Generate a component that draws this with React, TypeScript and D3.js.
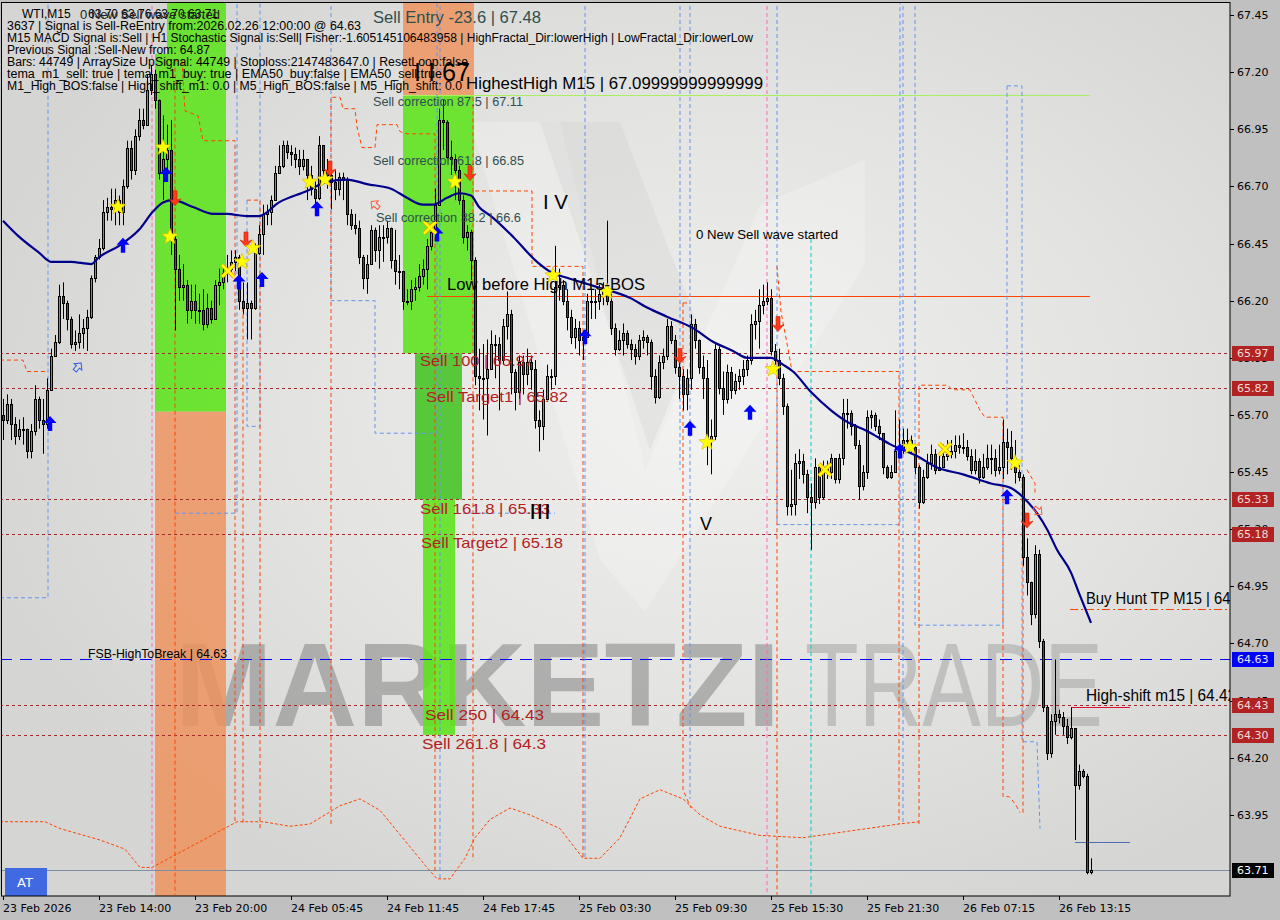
import React from 'react';
import * as d3 from 'd3';

const W = 1280;
const H = 920;

const timeLabels = ['23 Feb 2026', '23 Feb 14:00', '23 Feb 20:00', '24 Feb 05:45', '24 Feb 11:45', '24 Feb 17:45', '25 Feb 03:30', '25 Feb 09:30', '25 Feb 15:30', '25 Feb 21:30', '26 Feb 07:15', '26 Feb 13:15'];
const timeLabelBars = [0, 24, 48, 72, 96, 120, 144, 168, 192, 216, 240, 264];
const priceTicks = [67.45, 67.2, 66.95, 66.7, 66.45, 66.2, 65.95, 65.7, 65.45, 65.2, 64.95, 64.7, 64.45, 64.2, 63.95];

const firstOpen = 65.7;
const closes = [
  65.68, 65.75, 65.66, 65.61, 65.64, 65.64, 65.54, 65.63, 65.77, 65.68, 65.66, 65.81, 65.96,
  66.02, 66.22, 66.19, 66.12, 66.01, 66.02, 66.06, 66.08, 66.13, 66.30, 66.39, 66.43,
  66.59, 66.61, 66.60, 66.64, 66.59, 66.70, 66.87, 66.77, 66.92, 66.99, 66.97, 67.12,
  67.19, 67.08, 66.76, 66.82, 66.86, 66.47, 66.34, 66.26, 66.27, 66.16, 66.20, 66.16,
  66.16, 66.10, 66.17, 66.12, 66.27, 66.28, 66.32, 66.34, 66.37, 66.39, 66.20, 66.17,
  66.19, 66.17, 66.41, 66.49, 66.58, 66.59, 66.64, 66.76, 66.79, 66.88, 66.85, 66.84,
  66.82, 66.79, 66.82, 66.75, 66.69, 66.65, 66.88, 66.77, 66.75, 66.72, 66.69, 66.74,
  66.73, 66.58, 66.53, 66.52, 66.39, 66.30, 66.36, 66.51, 66.42, 66.48, 66.48, 66.52,
  66.38, 66.33, 66.33, 66.20, 66.20, 66.25, 66.26, 66.31, 66.34, 66.44, 66.50, 66.62,
  66.99, 66.98, 66.83, 66.82, 66.77, 66.64, 66.48, 66.50, 66.38, 65.87, 65.86, 65.86,
  65.90, 66.01, 66.01, 65.94, 66.09, 66.14, 65.89, 65.80, 65.93, 65.88, 65.93, 65.90,
  65.68, 65.65, 65.77, 65.87, 65.87, 66.26, 66.27, 66.20, 66.13, 66.04, 66.08, 66.03,
  66.04, 66.20, 66.20, 66.20, 66.23, 66.25, 66.20, 66.08, 65.99, 66.03, 66.06, 66.01,
  65.99, 65.96, 66.03, 66.04, 66.02, 65.87, 65.78, 65.93, 65.96, 66.09, 66.03, 65.91,
  65.87, 65.79, 65.86, 66.10, 66.03, 65.91, 65.86, 65.59, 65.61, 65.99, 65.82, 65.77,
  65.89, 65.81, 65.85, 65.87, 65.90, 65.94, 66.10, 66.11, 66.18, 66.20, 66.21, 65.98,
  65.94, 65.86, 65.74, 65.30, 65.31, 65.49, 65.50, 65.44, 65.34, 65.32, 65.47, 65.34,
  65.47, 65.45, 65.51, 65.42, 65.51, 65.71, 65.71, 65.65, 65.57, 65.39, 65.45, 65.69,
  65.70, 65.65, 65.62, 65.47, 65.43, 65.45, 65.54, 65.55, 65.59, 65.59, 65.56, 65.47,
  65.32, 65.43, 65.49, 65.53, 65.46, 65.47, 65.52, 65.53, 65.54, 65.57, 65.56, 65.56,
  65.52, 65.46, 65.50, 65.43, 65.47, 65.51, 65.51, 65.46, 65.47, 65.58, 65.56, 65.51,
  65.45, 65.43, 65.08, 64.97, 64.83, 65.09, 64.71, 64.42, 64.22, 64.36, 64.39, 64.38,
  64.34, 64.29, 64.33, 64.08, 64.14, 64.12, 63.70, 63.71,
];
const highs = [
  65.77, 65.79, 65.77, 65.69, 65.68, 65.69, 65.64, 65.66, 65.83, 65.78, 65.77, 65.86, 65.99,
  66.05, 66.27, 66.28, 66.20, 66.13, 66.07, 66.14, 66.12, 66.16, 66.31, 66.40, 66.47,
  66.64, 66.65, 66.69, 66.69, 66.66, 66.73, 66.90, 66.90, 66.95, 67.04, 67.04, 67.19,
  67.23, 67.21, 67.08, 67.01, 66.97, 66.99, 66.49, 66.40, 66.36, 66.29, 66.27, 66.27,
  66.23, 66.25, 66.23, 66.20, 66.29, 66.34, 66.36, 66.40, 66.42, 66.42, 66.40, 66.28,
  66.28, 66.20, 66.45, 66.53, 66.62, 66.62, 66.66, 66.79, 66.88, 66.90, 66.90, 66.88,
  66.87, 66.86, 66.86, 66.82, 66.79, 66.73, 66.92, 66.88, 66.82, 66.79, 66.77, 66.76,
  66.76, 66.74, 66.60, 66.58, 66.55, 66.40, 66.40, 66.53, 66.52, 66.53, 66.53, 66.55,
  66.52, 66.51, 66.40, 66.27, 66.25, 66.29, 66.30, 66.36, 66.38, 66.47, 66.52, 66.69,
  67.04, 67.08, 66.99, 66.90, 66.84, 66.79, 66.66, 66.53, 66.51, 66.39, 65.99, 66.01,
  66.03, 66.07, 66.05, 66.04, 66.12, 66.24, 66.16, 65.90, 65.96, 65.96, 65.99, 65.96,
  65.94, 65.72, 65.81, 65.92, 65.90, 66.44, 66.34, 66.29, 66.25, 66.16, 66.12, 66.11,
  66.07, 66.23, 66.25, 66.25, 66.27, 66.28, 66.55, 66.23, 66.10, 66.07, 66.10, 66.07,
  66.03, 66.01, 66.05, 66.07, 66.05, 66.03, 65.90, 65.96, 65.99, 66.12, 66.11, 66.05,
  65.94, 65.90, 65.90, 66.14, 66.12, 66.03, 65.96, 65.94, 65.68, 66.01, 66.00, 65.89,
  65.92, 65.91, 65.88, 65.90, 65.94, 65.96, 66.14, 66.16, 66.25, 66.27, 66.28, 66.25,
  66.01, 65.99, 65.88, 65.75, 65.46, 65.53, 65.55, 65.53, 65.46, 65.40, 65.51, 65.48,
  65.50, 65.50, 65.53, 65.51, 65.53, 65.77, 65.77, 65.72, 65.66, 65.59, 65.48, 65.72,
  65.72, 65.71, 65.68, 65.59, 65.48, 65.48, 65.72, 65.68, 65.64, 65.64, 65.61, 65.57,
  65.48, 65.46, 65.53, 65.57, 65.55, 65.53, 65.57, 65.59, 65.59, 65.61, 65.61, 65.62,
  65.59, 65.55, 65.55, 65.51, 65.53, 65.57, 65.57, 65.55, 65.57, 65.68, 65.64, 65.63,
  65.59, 65.48, 65.44, 65.16, 64.96, 65.13, 65.11, 64.72, 64.43, 64.39, 64.63, 64.41,
  64.40, 64.37, 64.42, 64.33, 64.17, 64.15, 64.13, 63.76,
];
const lows = [
  65.59, 65.66, 65.59, 65.57, 65.59, 65.57, 65.51, 65.51, 65.61, 65.64, 65.53, 65.64, 65.81,
  65.96, 66.01, 66.12, 66.07, 65.99, 65.98, 65.99, 65.99, 65.98, 66.12, 66.28, 66.38,
  66.42, 66.55, 66.55, 66.53, 66.53, 66.53, 66.69, 66.73, 66.75, 66.90, 66.95, 66.97,
  67.10, 67.04, 66.73, 66.64, 66.73, 66.40, 66.07, 66.20, 66.20, 66.10, 66.12, 66.10,
  66.10, 66.07, 66.08, 66.10, 66.12, 66.18, 66.25, 66.28, 66.31, 66.33, 66.16, 66.14,
  66.03, 66.03, 66.16, 66.40, 66.40, 66.53, 66.53, 66.64, 66.76, 66.78, 66.82, 66.79,
  66.78, 66.75, 66.77, 66.64, 66.66, 66.58, 66.64, 66.74, 66.69, 66.60, 66.64, 66.66,
  66.64, 66.53, 66.51, 66.49, 66.36, 66.25, 66.23, 66.36, 66.37, 66.34, 66.37, 66.45,
  66.34, 66.27, 66.25, 66.16, 66.18, 66.16, 66.20, 66.24, 66.27, 66.25, 66.42, 66.47,
  66.62, 66.86, 66.82, 66.75, 66.64, 66.62, 66.45, 66.42, 66.29, 65.83, 65.72, 65.68,
  65.61, 65.94, 65.86, 65.72, 65.92, 66.03, 65.79, 65.72, 65.77, 65.79, 65.83, 65.81,
  65.64, 65.54, 65.59, 65.77, 65.81, 65.83, 66.20, 66.18, 66.07, 66.01, 65.99, 65.96,
  65.94, 66.04, 66.12, 66.12, 66.16, 66.18, 66.18, 66.05, 65.96, 65.98, 65.96, 65.99,
  65.94, 65.92, 65.94, 65.99, 65.96, 65.81, 65.75, 65.77, 65.90, 65.94, 66.01, 65.88,
  65.77, 65.72, 65.72, 65.81, 65.99, 65.88, 65.77, 65.48, 65.44, 65.59, 65.79, 65.70,
  65.75, 65.77, 65.79, 65.81, 65.83, 65.87, 65.92, 66.03, 65.99, 66.14, 66.18, 65.96,
  65.92, 65.83, 65.70, 65.26, 65.26, 65.26, 65.42, 65.40, 65.27, 65.11, 65.29, 65.31,
  65.33, 65.42, 65.42, 65.40, 65.40, 65.48, 65.64, 65.61, 65.55, 65.33, 65.37, 65.42,
  65.64, 65.63, 65.59, 65.44, 65.42, 65.42, 65.48, 65.51, 65.53, 65.55, 65.53, 65.44,
  65.29, 65.31, 65.42, 65.46, 65.44, 65.46, 65.48, 65.50, 65.51, 65.51, 65.53, 65.53,
  65.50, 65.44, 65.44, 65.40, 65.42, 65.46, 65.44, 65.43, 65.44, 65.42, 65.44, 65.46,
  65.40, 65.41, 65.04, 64.91, 64.78, 64.81, 64.68, 64.40, 64.19, 64.20, 64.30, 64.35,
  64.30, 64.26, 64.28, 63.84, 64.06, 64.11, 63.69, 63.69,
];

const emaBars = [0, 4, 9, 12, 14, 17, 22, 24, 29, 34, 37.5, 40, 42.5, 47.5, 52.5, 56, 61, 64, 69, 76, 81, 86, 91, 97, 101, 105, 107.5, 111, 114, 117, 119, 122, 127.5, 133.5, 137.5, 141, 148.5, 157, 161, 166, 172.5, 177.5, 182.5, 186, 192, 195, 197.5, 202, 207, 211, 216, 222, 228.5, 233.5, 240, 247, 252, 255, 258.5, 261, 263.5, 267, 269, 272];
const emaVals = [66.55, 66.48, 66.41, 66.37, 66.37, 66.37, 66.36, 66.39, 66.44, 66.51, 66.59, 66.63, 66.64, 66.61, 66.58, 66.58, 66.57, 66.57, 66.63, 66.68, 66.72, 66.73, 66.71, 66.69, 66.65, 66.62, 66.62, 66.65, 66.67, 66.66, 66.61, 66.57, 66.48, 66.37, 66.32, 66.30, 66.26, 66.21, 66.17, 66.13, 66.08, 66.02, 65.98, 65.95, 65.95, 65.92, 65.89, 65.80, 65.72, 65.67, 65.63, 65.57, 65.52, 65.47, 65.44, 65.40, 65.38, 65.34, 65.27, 65.20, 65.11, 65.01, 64.92, 64.79];

const sellLevels = [65.97, 65.82, 65.33, 65.18, 64.43, 64.30];
const fsbLevel = 64.63;
const lastPrice = 63.71;
const lowBeforeHigh = 66.22;
const highestHigh = 67.10;
const buyHuntTP = 64.85;
const highShift = 64.42;
const sellLowBox = 63.83;

const upArrowBars = [11.75, 30, 40.75, 59, 64.75, 78.5, 108.5, 145.5, 171.75, 186.75, 224.25, 251];
const upArrowPrices = [65.66, 66.44, 66.75, 66.28, 66.29, 66.60, 66.49, 66.04, 65.64, 65.71, 65.54, 65.34];
const downArrowBars = [43, 60.75, 81.75, 116.75, 169.25, 193.75, 256];
const downArrowPrices = [66.65, 66.47, 66.78, 66.76, 65.96, 66.10, 65.24];
const starBars = [28.75, 40, 41.75, 59.75, 62.5, 76.75, 80.5, 113, 137.5, 151, 176, 192.5, 226.75, 253];
const starPrices = [66.61, 66.87, 66.48, 66.37, 66.43, 66.72, 66.73, 66.72, 66.31, 66.24, 65.58, 65.90, 65.56, 65.49];
const crossBars = [56.25, 106.75, 205.5, 235.5];
const crossPrices = [66.33, 66.52, 65.46, 65.55];

// zones: [barStart, barEnd, priceTop, priceBottom]
const greenZones = [
  [41, 55.75, 67.52, 67.28],
  [38, 55.75, 67.28, 65.715],
  [100, 117.75, 67.10, 65.97],
  [105, 113, 65.33, 64.30],
];
const darkGreenZones = [
  [103, 114.75, 65.97, 65.33],
];
const orangeZones = [
  [38, 55.75, 65.715, 63.55],
  [100, 117.75, 67.55, 67.10],
];

const orangeDashed = [
  [[-0.75, 65.94], [5, 65.94], [6, 65.89], [11.25, 65.89]],
  [[43, 67.25], [44.75, 67.25], [45.5, 67.03], [48.75, 67.01], [50, 66.90], [58, 66.90], [58, 63.91]],
  [[43, 67.25], [43, 63.6]],
  [[60, 66.20], [60, 63.91]],
  [[61, 66.64], [64.25, 66.64], [64.25, 63.89]],
  [[82, 63.91], [82, 67.09], [84.25, 67.09], [85, 67.04], [88, 67.04], [88.5, 66.96], [89.75, 66.87], [93, 66.87], [93.5, 66.97], [98.5, 66.97], [99.25, 66.94], [101, 66.93], [108, 66.93], [108, 63.70]],
  [[117.5, 67.09], [117.5, 63.75]],
  [[118, 66.68], [132.25, 66.68], [132.25, 66.35], [145, 66.35], [145, 63.76]],
  [[170, 66.19], [171.75, 66.19]],
  [[170, 66.19], [170, 64.06], [172, 63.98]],
  [[193.5, 66.35], [194.5, 66.15], [196.25, 65.99], [197.25, 65.89], [224, 65.89], [224, 63.91]],
  [[193.5, 65.97], [193.5, 63.6]],
  [[229, 63.91], [229, 65.83], [236.25, 65.83], [237.25, 65.81], [241.75, 65.81], [244.25, 65.72], [245.5, 65.69], [250, 65.69], [250, 64.03], [251.5, 64.03], [253, 64.0], [254.25, 63.96]],
  [[255, 63.96], [255, 65.43]],
  [[256, 65.46], [258, 65.40], [258, 65.35]],
];
const lowerEnvelope = [
  [-0.75, 63.92], [10.5, 63.92], [14.25, 63.89], [24.25, 63.84], [30.5, 63.80], [34.25, 63.72], [37.25, 63.72],
  [58.5, 63.92], [65, 63.92], [71.75, 63.90], [76.75, 63.91], [80.5, 63.95], [84.25, 63.99], [89.25, 64.02], [94.25, 63.97], [98, 63.89], [101.75, 63.81], [105.5, 63.73], [108.5, 63.67],
  [111.75, 63.67], [115.5, 63.76], [118, 63.85], [121.75, 63.93], [126.75, 63.98], [131.75, 63.95], [139.25, 63.89], [145, 63.76],
  [149.25, 63.76], [154.25, 63.85], [159.25, 64.02], [164.25, 64.06], [170, 64.02],
  [174.25, 63.95], [179.25, 63.90], [189.25, 63.86], [200, 63.85], [212, 63.88], [224, 63.91], [229, 63.92],
];
const blueDashed = [
  [[-0.75, 64.90], [11.25, 64.90], [11.25, 67.52]],
  [[43, 65.27], [58.5, 65.27], [58.5, 67.52]],
  [[61, 66.64], [61, 65.65], [64.25, 65.65], [64.25, 67.52]],
  [[82, 67.52], [82, 66.20], [93, 66.20], [93, 65.62], [108.5, 65.62], [108.5, 67.52]],
  [[109.25, 67.52], [109.25, 63.67]],
  [[115, 65.27], [138, 65.27]],
  [[145.5, 67.52], [145.5, 63.76]],
  [[169.25, 67.52], [169.25, 65.46]],
  [[171.75, 67.52], [171.75, 64.02]],
  [[193.5, 67.52], [193.5, 65.22], [224.25, 65.22], [224.25, 67.52]],
  [[225, 67.52], [225, 63.91]],
  [[228, 67.52], [228, 64.78], [250, 64.78], [250, 65.62]],
  [[251, 67.14], [254.75, 67.14], [254.75, 64.27], [258.5, 64.27], [259.25, 63.89]],
  [[251, 67.14], [251, 65.68]],
];
const pinkDashed = [
  [[37.25, 67.52], [37.25, 63.6]],
  [[191, 67.52], [191, 63.6]],
];
const cyanDashed = [
  [[202, 66.47], [202, 63.6]],
];

const infoLines = [
  '3637 | Signal is Sell-ReEntry from:2026.02.26 12:00:00 @ 64.63',
  'M15 MACD Signal is:Sell | H1 Stochastic Signal is:Sell| Fisher:-1.605145106483958 | HighFractal_Dir:lowerHigh | LowFractal_Dir:lowerLow',
  'Previous Signal :Sell-New from: 64.87',
  'Bars: 44749 | ArraySize UpSignal: 44749 | Stoploss:2147483647.0 | ResetLoop:false',
  'tema_m1_sell: true | tema_m1_buy: true | EMA50_buy:false | EMA50_sell:true',
  'M1_High_BOS:false | High_shift_m1: 0.0 | M5_High_BOS:false | M5_High_shift: 0.0',
];
const infoWidths = [354, 746, 203, 461, 435, 455];

const FONT = '"Liberation Sans", Arial, sans-serif';
const AXFONT = '"DejaVu Sans", Tahoma, sans-serif';

function starPath(r1: number, r2: number) {
  const pts: string[] = [];
  for (let k = 0; k < 10; k++) {
    const r = k % 2 === 0 ? r1 : r2;
    const a = -Math.PI / 2 + (k * Math.PI) / 5;
    pts.push(`${(r * Math.cos(a)).toFixed(2)},${(r * Math.sin(a)).toFixed(2)}`);
  }
  return 'M' + pts.join('L') + 'Z';
}

export default function App() {
  const x = d3.scaleLinear().domain([-0.75, 306.75]).range([0, 1230]);
  const y = d3.scaleLinear().domain([63.70, 67.45]).range([872, 15]);
  const PR = 1230;
  const PB = 896;

  const line = d3.line<number[]>().x((d) => x(d[0])).y((d) => y(d[1]));
  const emaLine = d3
    .line<number>()
    .x((_, i) => x(emaBars[i]))
    .y((d) => y(d))
    .curve(d3.curveMonotoneX);

  const star = starPath(8.5, 3.6);
  const upArrow = 'M0,-8 L6.5,-1 L2.2,-1 L2.2,7 L-2.2,7 L-2.2,-1 L-6.5,-1 Z';
  const downArrow = 'M0,8 L6,1 L2,2.5 L2,-7 L-2,-7 L-2,2.5 L-6,1 Z';

  const dashedPaths = (arr: number[][][], color: string, dash: string, key: string, w = 1) =>
    arr.map((pts, i) => (
      <path key={key + i} d={line(pts) || ''} fill="none" stroke={color} strokeWidth={w} strokeDasharray={dash} />
    ));

  return (
    <div style={{ position: 'absolute', left: 0, top: 0 }}>
      <svg width={W} height={H} viewBox={`0 0 ${W} ${H}`} xmlns="http://www.w3.org/2000/svg">
        <defs>
          <radialGradient id="bg" cx="0.58" cy="0.45" r="0.62">
            <stop offset="0" stopColor="#efefee" />
            <stop offset="0.55" stopColor="#e3e3e1" />
            <stop offset="1" stopColor="#d5d5d3" />
          </radialGradient>
          <clipPath id="plot">
            <rect x={2} y={3} width={PR - 2} height={PB - 3} />
          </clipPath>
        </defs>
        <rect x={0} y={0} width={W} height={H} fill="#c0c0c0" />
        <rect x={2} y={3} width={PR - 2} height={PB - 3} fill="url(#bg)" />

        <g clipPath="url(#plot)">
          {/* faint logo */}
          <path d="M470,122 L560,122 L645,470 L760,205 L865,160 L865,265 L645,612 L600,560 Z" fill="#ffffff" opacity={0.22} />
          <path d="M540,122 L620,122 L700,330 L650,450 Z" fill="#bdbdbd" opacity={0.18} />

          {/* watermark */}
          <text x={175} y={726} fontFamily={FONT} fontWeight="bold" fontSize={118} fill="#8f8f8f" opacity={0.62} textLength={605} lengthAdjust="spacingAndGlyphs">MARKETZI</text>
          <text x={805} y={726} fontFamily={FONT} fontSize={118} fill="#a5a5a5" opacity={0.55} textLength={298} lengthAdjust="spacingAndGlyphs">TRADE</text>

          {/* zones */}
          {orangeZones.map((z, i) => (
            <rect key={'oz' + i} x={x(z[0])} y={y(z[2])} width={x(z[1]) - x(z[0])} height={y(z[3]) - y(z[2])} fill="#ee915a" opacity={0.82} />
          ))}
          {greenZones.map((z, i) => (
            <rect key={'gz' + i} x={x(z[0])} y={y(z[2])} width={x(z[1]) - x(z[0])} height={y(z[3]) - y(z[2])} fill="#5ce31a" opacity={0.88} />
          ))}
          {darkGreenZones.map((z, i) => (
            <rect key={'dz' + i} x={x(z[0])} y={y(z[2])} width={x(z[1]) - x(z[0])} height={y(z[3]) - y(z[2])} fill="#4cc52c" opacity={0.92} />
          ))}

          {/* horizontal levels */}
          {sellLevels.map((v, i) => (
            <line key={'sl' + i} x1={0} x2={PR} y1={Math.round(y(v)) + 0.5} y2={Math.round(y(v)) + 0.5} stroke="#a52a2a" strokeDasharray="3,3" />
          ))}
          <line x1={0} x2={PR} y1={Math.round(y(fsbLevel)) + 0.5} y2={Math.round(y(fsbLevel)) + 0.5} stroke="#0000ff" strokeDasharray="12,8" />
          <line x1={0} x2={PR} y1={Math.round(y(lastPrice)) + 0.5} y2={Math.round(y(lastPrice)) + 0.5} stroke="#7d8ea3" />
          <line x1={x(106)} x2={x(271.75)} y1={Math.round(y(lowBeforeHigh)) + 0.5} y2={Math.round(y(lowBeforeHigh)) + 0.5} stroke="#ff4500" strokeWidth={1.2} />
          <line x1={x(100)} x2={x(271.75)} y1={Math.round(y(highestHigh)) + 0.5} y2={Math.round(y(highestHigh)) + 0.5} stroke="#a8f060" />
          <line x1={x(266.75)} x2={PR} y1={Math.round(y(buyHuntTP)) + 0.5} y2={Math.round(y(buyHuntTP)) + 0.5} stroke="#ff4500" strokeDasharray="8,3,2,3" strokeWidth={1.2} />
          <line x1={x(267)} x2={x(281.75)} y1={Math.round(y(highShift)) + 0.5} y2={Math.round(y(highShift)) + 0.5} stroke="#e0103a" strokeWidth={1.2} />
          <line x1={x(268)} x2={x(281.75)} y1={Math.round(y(sellLowBox)) + 0.5} y2={Math.round(y(sellLowBox)) + 0.5} stroke="#4a6fb5" />

          {/* dashed structures */}
          {dashedPaths(blueDashed, '#6495ed', '4,3', 'bd')}
          {dashedPaths(orangeDashed, '#ff4500', '4,3', 'od')}
          {dashedPaths([lowerEnvelope], '#ff4500', '3,2', 'le')}
          {dashedPaths(pinkDashed, '#ff69b4', '4,3', 'pd')}
          {dashedPaths(cyanDashed, '#00ced1', '4,3', 'cd')}

          {/* candles */}
          {closes.map((c, i) => {
            const o = i === 0 ? firstOpen : closes[i - 1];
            const hi = Math.max(highs[i], o, c);
            const lo = Math.min(lows[i], o, c);
            const px = Math.round(x(i));
            const yt = Math.round(y(Math.max(o, c)));
            const yb = Math.round(y(Math.min(o, c)));
            const up = c >= o;
            return (
              <g key={'c' + i}>
                <line x1={px + 0.5} x2={px + 0.5} y1={y(hi)} y2={y(lo)} stroke="#000" />
                <rect x={px - 0.5} y={yt + 0.5} width={2} height={Math.max(1, yb - yt)} fill={up ? '#3cb371' : '#b22234'} stroke="#000" />
              </g>
            );
          })}

          {/* EMA */}
          <path d={emaLine(emaVals) || ''} fill="none" stroke="#00008b" strokeWidth={2.2} />

          {/* markers */}
          {upArrowBars.map((b, i) => (
            <path key={'ua' + i} d={upArrow} transform={`translate(${x(b)},${y(upArrowPrices[i])})`} fill="#0000ff" />
          ))}
          {downArrowBars.map((b, i) => (
            <path key={'da' + i} d={downArrow} transform={`translate(${x(b)},${y(downArrowPrices[i])})`} fill="#ff3a1a" stroke="#d02000" strokeWidth={0.6} />
          ))}
          {starBars.map((b, i) => (
            <path key={'st' + i} d={star} transform={`translate(${x(b)},${y(starPrices[i])})`} fill="#ffff00" stroke="#d8b400" strokeWidth={0.6} />
          ))}
          {crossBars.map((b, i) => (
            <g key={'cr' + i} transform={`translate(${x(b)},${y(crossPrices[i])})`}>
              <path d="M-6,-6 L6,6 M6,-6 L-6,6" stroke="#e8a000" strokeWidth={4} />
              <path d="M-6,-6 L6,6 M6,-6 L-6,6" stroke="#ffff00" strokeWidth={2.4} />
            </g>
          ))}
          <path d="M0,-5 L5,0 L2,0 L2,5 L-2,5 L-2,0 L-5,0 Z" transform={`translate(${x(18.75)},${y(65.91)}) rotate(40)`} fill="none" stroke="#3060e0" strokeWidth={1} />
          <path d="M0,-5 L5,0 L2,0 L2,5 L-2,5 L-2,0 L-5,0 Z" transform={`translate(${x(258.75)},${y(65.28)}) rotate(130)`} fill="none" stroke="#ff5a3a" strokeWidth={1} />
          <path d="M0,-5 L5,0 L2,0 L2,5 L-2,5 L-2,0 L-5,0 Z" transform={`translate(${x(93)},${y(66.62)}) rotate(-50)`} fill="none" stroke="#ff5a3a" strokeWidth={1} />

          {/* annotations */}
          <text x={373} y={23} fontFamily={FONT} fontSize={17} fill="#2f4f4f" textLength={168} lengthAdjust="spacingAndGlyphs">Sell Entry -23.6 | 67.48</text>
          <text x={414} y={81} fontFamily={FONT} fontSize={25} fill="#000" textLength={56} lengthAdjust="spacingAndGlyphs">I I 67</text>
          <text x={466} y={89} fontFamily={FONT} fontSize={17} fill="#000" textLength={297} lengthAdjust="spacingAndGlyphs">HighestHigh   M15 | 67.09999999999999</text>
          <text x={373} y={106} fontFamily={FONT} fontSize={13} fill="#2f4f4f" textLength={150} lengthAdjust="spacingAndGlyphs">Sell correction 87.5 | 67.11</text>
          <text x={373} y={165} fontFamily={FONT} fontSize={13} fill="#2f4f4f" textLength={151} lengthAdjust="spacingAndGlyphs">Sell correction 61.8 | 66.85</text>
          <text x={376} y={222} fontFamily={FONT} fontSize={13} fill="#2f4f4f" textLength={145} lengthAdjust="spacingAndGlyphs">Sell correction 38.2 | 66.6</text>
          <text x={543} y={209} fontFamily={FONT} fontSize={20} fill="#000" textLength={25} lengthAdjust="spacingAndGlyphs">I V</text>
          <text x={696} y={239} fontFamily={FONT} fontSize={13} fill="#000" textLength={142} lengthAdjust="spacingAndGlyphs">0 New Sell wave started</text>
          <text x={447} y={290} fontFamily={FONT} fontSize={17} fill="#000" textLength={198} lengthAdjust="spacingAndGlyphs">Low before High   M15-BOS</text>
          <text x={420} y={y(65.97) + 13} fontFamily={FONT} fontSize={15} fill="#b22222" textLength={114} lengthAdjust="spacingAndGlyphs">Sell 100 | 65.97</text>
          <text x={426} y={y(65.82) + 14} fontFamily={FONT} fontSize={15} fill="#b22222" textLength={142} lengthAdjust="spacingAndGlyphs">Sell Target1 | 65.82</text>
          <text x={420} y={y(65.33) + 15} fontFamily={FONT} fontSize={15} fill="#b22222" textLength={130} lengthAdjust="spacingAndGlyphs">Sell 161.8 | 65.33</text>
          <text x={529} y={516} fontFamily={FONT} fontSize={17} fill="#000" textLength={22} lengthAdjust="spacingAndGlyphs">|||</text>
          <text x={421} y={y(65.18) + 14} fontFamily={FONT} fontSize={15} fill="#b22222" textLength={142} lengthAdjust="spacingAndGlyphs">Sell Target2 | 65.18</text>
          <text x={700} y={530} fontFamily={FONT} fontSize={18} fill="#000">V</text>
          <text x={1086} y={604} fontFamily={FONT} fontSize={16} fill="#000" textLength={165} lengthAdjust="spacingAndGlyphs">Buy Hunt TP M15 | 64.85</text>
          <text x={88} y={658} fontFamily={FONT} fontSize={12} fill="#000" textLength={139} lengthAdjust="spacingAndGlyphs">FSB-HighToBreak | 64.63</text>
          <text x={1086} y={701} fontFamily={FONT} fontSize={16} fill="#000" textLength={150} lengthAdjust="spacingAndGlyphs">High-shift m15 | 64.42</text>
          <text x={425} y={y(64.43) + 15} fontFamily={FONT} fontSize={15} fill="#b22222" textLength={119} lengthAdjust="spacingAndGlyphs">Sell  250 | 64.43</text>
          <text x={422} y={y(64.30) + 14} fontFamily={FONT} fontSize={15} fill="#b22222" textLength={124} lengthAdjust="spacingAndGlyphs">Sell  261.8 | 64.3</text>

          {/* info block */}
          <text x={22} y={18} fontFamily={FONT} fontSize={12} fill="#000">WTI,M15</text>
          <text x={88} y={18} fontFamily={FONT} fontSize={12} fill="#000" textLength={130} lengthAdjust="spacingAndGlyphs">63.70 63.76 63.70 63.71</text>
          <text x={80} y={19} fontFamily={FONT} fontSize={13} fill="#222" textLength={140} lengthAdjust="spacingAndGlyphs">0 New Sell wave started</text>
          {infoLines.map((t, i) => (
            <text key={'il' + i} x={7} y={30 + i * 12} fontFamily={FONT} fontSize={12} fill="#000" textLength={infoWidths[i]} lengthAdjust="spacingAndGlyphs">{t}</text>
          ))}

          {/* AT button */}
          <rect x={5} y={868} width={42} height={28} fill="#4169e1" />
          <text x={17} y={887} fontFamily={AXFONT} fontSize={13} fill="#ffffff">AT</text>
        </g>

        {/* frame */}
        <rect x={1.5} y={2.5} width={PR - 1.5} height={PB - 2.5} fill="none" stroke="#000" />

        {/* right axis */}
        {priceTicks.map((p, i) => (
          <g key={'pt' + i}>
            <line x1={PR} x2={PR + 4} y1={Math.round(y(p)) + 0.5} y2={Math.round(y(p)) + 0.5} stroke="#000" />
            <text x={1237} y={y(p) + 4} fontFamily={AXFONT} fontSize={11} fill="#000">{p.toFixed(2)}</text>
          </g>
        ))}
        {sellLevels.map((v, i) => (
          <g key={'pb' + i}>
            <rect x={1232} y={Math.round(y(v)) - 7} width={42} height={15} fill="#b22222" />
            <text x={1237} y={y(v) + 4} fontFamily={AXFONT} fontSize={11} fill="#f3dada">{v.toFixed(2)}</text>
          </g>
        ))}
        <rect x={1232} y={Math.round(y(fsbLevel)) - 7} width={42} height={15} fill="#0000ff" />
        <text x={1237} y={y(fsbLevel) + 4} fontFamily={AXFONT} fontSize={11} fill="#e8e8ff">{fsbLevel.toFixed(2)}</text>
        <rect x={1232} y={Math.round(y(lastPrice)) - 7} width={42} height={15} fill="#000" />
        <text x={1237} y={y(lastPrice) + 4} fontFamily={AXFONT} fontSize={11} fill="#fff">{lastPrice.toFixed(2)}</text>

        {/* bottom axis */}
        {timeLabelBars.map((b, i) => (
          <g key={'tl' + i}>
            <line x1={Math.round(x(b)) + 0.5} x2={Math.round(x(b)) + 0.5} y1={PB} y2={PB + 4} stroke="#000" />
            <text x={Math.round(x(b))} y={912} fontFamily={AXFONT} fontSize={11} fill="#000">{timeLabels[i]}</text>
          </g>
        ))}
      </svg>
    </div>
  );
}
